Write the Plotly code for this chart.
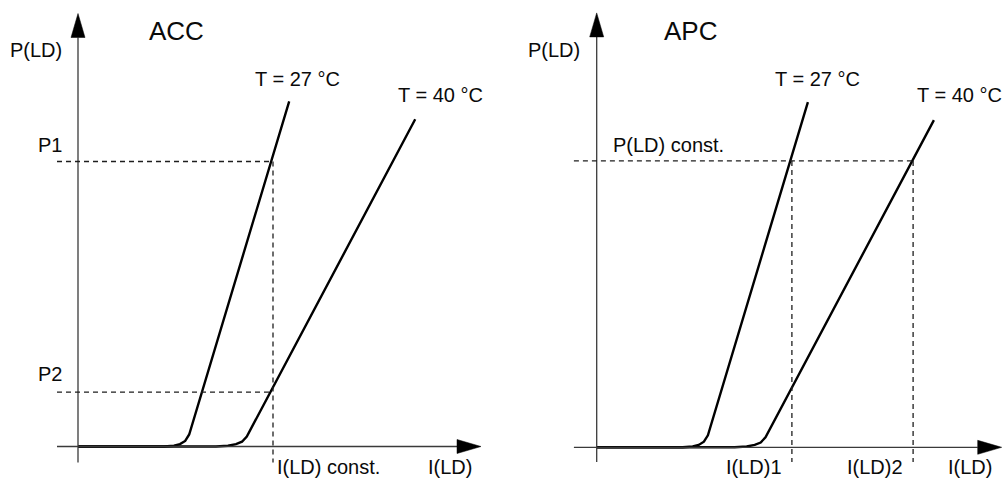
import plotly.graph_objects as go

# ---- data (arbitrary units) ----
I_27 = [0, 2.15, 2.4, 2.55, 2.68, 2.78, 5.28]
P_27 = [0, 0, 0.02, 0.06, 0.14, 0.30, 8.63]
I_40 = [0, 3.45, 3.75, 3.95, 4.10, 4.22, 8.43]
P_40 = [0, 0, 0.02, 0.06, 0.12, 0.25, 8.18]

# ACC panel reference levels
acc_P1 = 7.125
acc_P2 = 1.36
acc_I_const = 4.875
# APC panel reference levels
apc_P_const = 7.16
apc_I1 = 4.88
apc_I2 = 7.91

curve_labels = ["T = 27 °C", "T = 40 °C"]
panel_titles = ["ACC", "APC"]

W, H = 1003, 480
U = 40.0  # pixels per unit
origins = [(78.0, 446.5), (596.7, 447.3)]  # pixel origin for each panel
domains = [(0.0, 0.5), (0.5, 1.0)]

fig = go.Figure()
FONT = "Liberation Sans, Arial, sans-serif"
AX_COL = "#3a3a3a"

layout_axes = {}
for k, ((ox, oy), (d0, d1)) in enumerate(zip(origins, domains)):
    xa = "xaxis" if k == 0 else "xaxis2"
    ya = "yaxis" if k == 0 else "yaxis2"
    px0, px1 = d0 * W, d1 * W
    layout_axes[xa] = dict(domain=[d0, d1], range=[(px0 - ox) / U, (px1 - ox) / U],
                           visible=False, fixedrange=True)
    layout_axes[ya] = dict(domain=[0, 1], range=[-(H - oy) / U, oy / U],
                           visible=False, fixedrange=True,
                           anchor="x" if k == 0 else "x2")
layout_axes["xaxis2"]["anchor"] = "y2"

shapes = []
annotations = []

def add_panel(k, xlo, xtip, ylo, ytip):
    xr = "x" if k == 0 else "x2"
    yr = "y" if k == 0 else "y2"
    ah_len, ah_half = 24 / U, 7 / U
    # axis lines
    shapes.append(dict(type="line", xref=xr, yref=yr, x0=xlo, y0=0, x1=xtip - ah_len, y1=0,
                       line=dict(color=AX_COL, width=1.3)))
    shapes.append(dict(type="line", xref=xr, yref=yr, x0=0, y0=ylo, x1=0, y1=ytip - ah_len,
                       line=dict(color=AX_COL, width=1.3)))
    # arrowheads
    shapes.append(dict(type="path", xref=xr, yref=yr,
                       path=f"M {xtip} 0 L {xtip-ah_len} {ah_half} L {xtip-ah_len} {-ah_half} Z",
                       fillcolor="black", line=dict(color="black", width=0.5)))
    shapes.append(dict(type="path", xref=xr, yref=yr,
                       path=f"M 0 {ytip} L {ah_half} {ytip-ah_len} L {-ah_half} {ytip-ah_len} Z",
                       fillcolor="black", line=dict(color="black", width=0.5)))
    for I, P in ((I_27, P_27), (I_40, P_40)):
        fig.add_trace(go.Scatter(x=I, y=P, mode="lines", xaxis=xr, yaxis=yr,
                                 line=dict(color="black", width=2.4), hoverinfo="skip"))

def dash(k, x0, y0, x1, y1):
    xr = "x" if k == 0 else "x2"
    yr = "y" if k == 0 else "y2"
    shapes.append(dict(type="line", xref=xr, yref=yr, x0=x0, y0=y0, x1=x1, y1=y1,
                       line=dict(color="#1e1e1e", width=1.3, dash="5px,4px")))

def label(px, py, text, size=20):
    annotations.append(dict(x=px / W, y=1 - py / H, xref="paper", yref="paper",
                            text=text, showarrow=False, xanchor="center", yanchor="middle",
                            font=dict(family=FONT, size=size, color="#0a0a0a")))

# ACC panel
add_panel(0, -0.525, 10.075, -0.4, 10.825)
dash(0, -0.525, acc_P1, acc_I_const, acc_P1)
dash(0, -0.525, acc_P2, acc_I_const, acc_P2)
dash(0, acc_I_const, acc_P1, acc_I_const, -0.4)

# APC panel
add_panel(1, -0.57, 10.125, -0.37, 10.86)
dash(1, -0.57, apc_P_const, apc_I2, apc_P_const)
dash(1, apc_I1, apc_P_const, apc_I1, -0.37)
dash(1, apc_I2, apc_P_const, apc_I2, -0.37)

# text
label(36, 50, "P(LD)")
label(176, 31, panel_titles[0], size=26)
label(50, 145, "P1")
label(50, 374, "P2")
label(297, 79, curve_labels[0])
label(440, 95, curve_labels[1])
label(328, 467, "I(LD) const.")
label(450, 467, "I(LD)")

label(554, 50, "P(LD)")
label(690, 31, panel_titles[1], size=26)
label(817, 79, curve_labels[0])
label(959, 95, curve_labels[1])
label(668, 145, "P(LD) const.")
label(754, 467, "I(LD)1")
label(875, 467, "I(LD)2")
label(970, 467, "I(LD)")

fig.update_layout(width=W, height=H, margin=dict(l=0, r=0, t=0, b=0),
                  paper_bgcolor="white", plot_bgcolor="white", showlegend=False,
                  shapes=shapes, annotations=annotations, **layout_axes)

fig.write_html("out.html", config={"displayModeBar": False},
               post_script="document.body.style.margin='0';document.body.style.overflow='hidden';")
